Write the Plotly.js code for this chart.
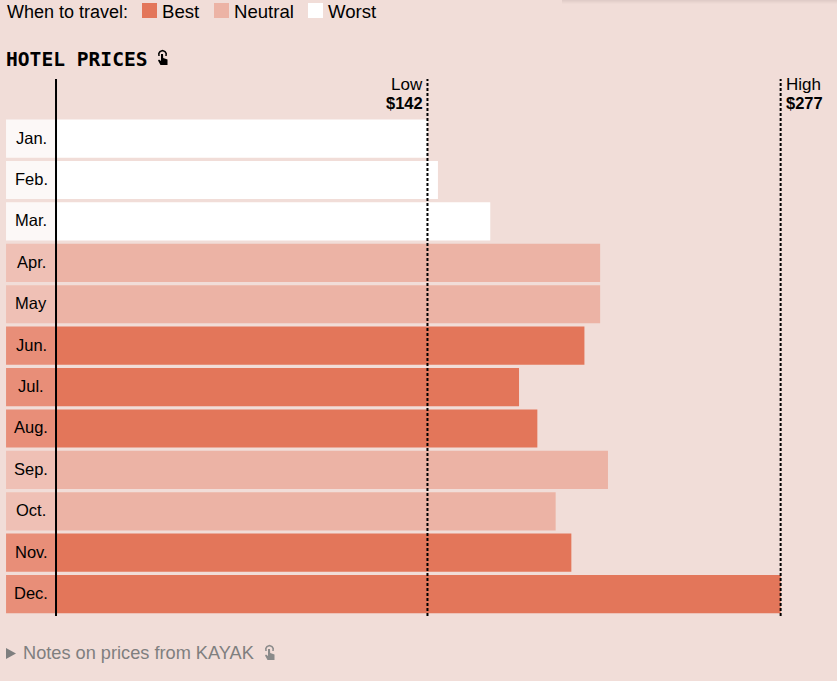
<!DOCTYPE html>
<html><head><meta charset="utf-8">
<script src="https://cdn.plot.ly/plotly-3.0.1.min.js"></script>
<style>html,body{margin:0;padding:0;background:#f1ddd8;overflow:hidden}</style>
</head><body><div id="chart" style="width:837px;height:681px"></div>
<script>
const months = ['Jan.','Feb.','Mar.','Apr.','May','Jun.','Jul.','Aug.','Sep.','Oct.','Nov.','Dec.'];
const prices = [142,146,166,208,208,202,177,184,211,191,197,277];
const ratings = ['Worst','Worst','Worst','Neutral','Neutral','Best','Best','Best','Neutral','Neutral','Best','Best'];
const ratingColors = {Best:'#e3765a',Neutral:'#ecb3a5',Worst:'#ffffff'};
const stripColors = {Best:'#e88e78',Neutral:'#efc0b5',Worst:'#fcf8f7'};
const lowPrice = 142, highPrice = 277;
const FONT = '"Liberation Sans", Arial, sans-serif';
const stripWidth = 19.1;
const W = 837, H = 681;
const px = x => x / W, py = y => 1 - y / H;
const bars = {type:'bar',orientation:'h',y:months,x:prices,width:0.9225,
  marker:{color:ratings.map(r=>ratingColors[r]),line:{width:0}},hoverinfo:'x+y',showlegend:false};
const strips = {type:'bar',orientation:'h',y:months,x:months.map(()=>stripWidth),base:months.map(()=>-stripWidth),width:0.9225,
  marker:{color:ratings.map(r=>stripColors[r]),line:{width:0}},hoverinfo:'skip',showlegend:false};
const ann=(x,y,text,o={})=>Object.assign({xref:'paper',yref:'paper',x:px(x),y:py(y),text,showarrow:false,xanchor:'left',yanchor:'middle',
  borderpad:0,borderwidth:0,font:{family:FONT,size:18,color:'#000'}},o);
const sq=(x,c)=>({type:'rect',xref:'paper',yref:'paper',x0:px(x),x1:px(x+15),y0:py(18),y1:py(3),fillcolor:c,line:{width:0},layer:'above'});
const vline=(v,dash)=>({type:'line',xref:'x',yref:'paper',x0:v,x1:v,y0:py(616),y1:py(79),line:{color:'#000',width:2,dash},layer:'above'});
const P = pts => pts.map((p,i)=>(i?'L ':'M ')+px(p[0])+' '+py(p[1])).join(' ');
const hand = (dx,dy,c) => [
  {type:'path',xref:'paper',yref:'paper',line:{color:c,width:1.5},fillcolor:'rgba(0,0,0,0)',
   path:P([[159,56],[158.8,53.5],[160,51.5],[162.5,50.5],[165,51.5],[166.2,53.5],[166,56]].map(p=>[p[0]+dx,p[1]+dy]))},
  {type:'path',xref:'paper',yref:'paper',line:{width:0},fillcolor:c,
   path:P([[161,54],[163,54],[163.2,58],[167.5,59.5],[167.5,65],[160.5,65],[158,60.5],[159,59.5],[161,61]].map(p=>[p[0]+dx,p[1]+dy]))+' Z'}
];
const shadow = [[0,4,0.012],[0,3,0.015],[0,2,0.018],[0,1,0.02]].map(s=>({type:'rect',xref:'paper',yref:'paper',x0:px(562),x1:1,y0:py(s[1]),y1:py(s[0]),
  fillcolor:'#000',opacity:s[2],line:{width:0},layer:'above'}));
const monthLabels = months.map(m=>({xref:'x',yref:'y',x:-stripWidth/2,y:m,text:m,showarrow:false,xanchor:'center',yanchor:'middle',yshift:1,
  borderpad:0,borderwidth:0,font:{family:FONT,size:16.5,color:'#000'}}));
const annotations=[
  ...monthLabels,
  ann(7,11.5,'When to travel:'),
  ann(162,11.5,'Best',{font:{family:FONT,size:18.6,color:'#000'}}),
  ann(234,11.5,'Neutral',{font:{family:FONT,size:18.6,color:'#000'}}),
  ann(328,11.5,'Worst',{font:{family:FONT,size:18.6,color:'#000'}}),
  ann(6,59,'<b>HOTEL PRICES</b>',{font:{family:'"DejaVu Sans Mono", monospace',size:19.6,color:'#000'}}),
  ann(423,84.5,'Low',{xanchor:'right',font:{family:FONT,size:17,color:'#000'}}),
  ann(423,103.5,'<b>$'+lowPrice+'</b>',{xanchor:'right',font:{family:FONT,size:16.5,color:'#000'}}),
  ann(786,84.5,'High',{font:{family:FONT,size:17,color:'#000'}}),
  ann(786,103.5,'<b>$'+highPrice+'</b>',{font:{family:FONT,size:16.5,color:'#000'}}),
  ann(23,652.5,'Notes on prices from KAYAK',{font:{family:FONT,size:18.2,color:'#7f7f7f'}})
];
const shapes=[...shadow,sq(142,ratingColors.Best),sq(214,ratingColors.Neutral),sq(308,ratingColors.Worst),
  vline(0,'solid'),vline(lowPrice,'3px,2px'),vline(highPrice,'3px,2px'),
  {type:'path',xref:'paper',yref:'paper',fillcolor:'#7f7f7f',line:{width:0},path:P([[6,648],[16,653.5],[6,659]])+' Z'},
  ...hand(0,0,'#000000'),...hand(107,595,'#8a8a8a')
];
Plotly.newPlot('chart',[strips,bars],{
  width:W,height:H,margin:{l:0,r:0,t:0,b:0},paper_bgcolor:'#f1ddd8',plot_bgcolor:'#f1ddd8',
  barmode:'overlay',
  xaxis:{range:[-21.41,298.55],visible:false,fixedrange:true},
  yaxis:{type:'category',categoryorder:'array',categoryarray:months,range:[13.098,-3.347],visible:false,fixedrange:true},
  annotations,shapes,showlegend:false
},{displayModeBar:false});
</script></body></html>
